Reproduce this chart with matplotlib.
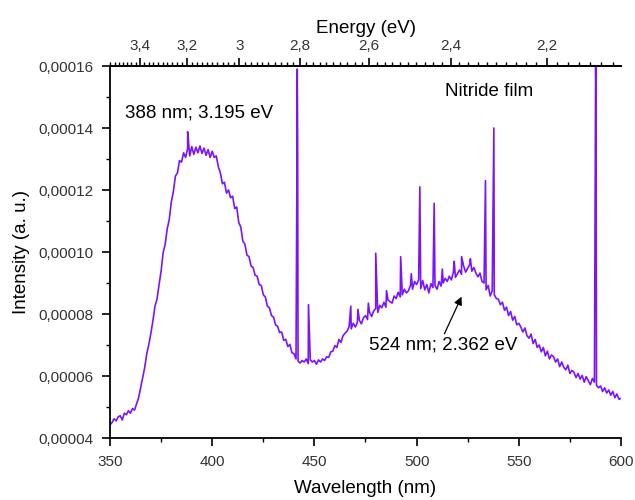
import numpy as np
import matplotlib
matplotlib.use("Agg")
import matplotlib.pyplot as plt
from matplotlib.ticker import MultipleLocator, FixedLocator, FuncFormatter

plt.rcParams['font.family'] = ['Liberation Sans', 'DejaVu Sans']

# ---- data (intensity in units of 1e-5 a.u.) ----
wavelength = np.arange(350, 601)
intensity = [
    4.42, 4.50, 4.62, 4.55, 4.68, 4.72, 4.58, 4.80, 4.75, 4.88,
    4.80, 4.95, 4.90, 5.10, 5.30, 5.62, 5.95, 6.28, 6.72, 7.02,
    7.38, 7.78, 8.25, 8.48, 8.95, 9.38, 9.98, 10.25, 10.75, 11.05,
    11.62, 11.95, 12.45, 12.55, 12.95, 12.90, 13.20, 13.05, 13.35, 13.10,
    13.40, 13.15, 13.38, 13.20, 13.42, 13.18, 13.35, 13.12, 13.30, 13.05,
    13.25, 13.05, 13.10, 12.75, 12.55, 12.20, 12.25, 11.90, 12.00, 11.75,
    11.80, 11.40, 11.45, 10.95, 10.80, 10.35, 10.25, 9.90, 9.85, 9.55,
    9.50, 9.25, 9.22, 8.95, 8.92, 8.62, 8.55, 8.25, 8.20, 7.95,
    7.90, 7.65, 7.60, 7.40, 7.42, 7.15, 7.18, 6.95, 7.02, 6.75,
    6.72, 6.55, 6.48, 6.42, 6.50, 6.45, 6.55, 6.40, 6.52, 6.45,
    6.50, 6.38, 6.52, 6.45, 6.55, 6.50, 6.62, 6.60, 6.78, 6.80,
    6.98, 6.92, 7.18, 7.08, 7.30, 7.38, 7.45, 7.60, 7.52, 7.70,
    7.58, 7.72, 7.80, 7.68, 7.88, 7.95, 7.82, 8.05, 7.92, 8.10,
    8.18, 8.05, 8.28, 8.20, 8.38, 8.22, 8.45, 8.40, 8.35, 8.58,
    8.50, 8.70, 8.55, 8.62, 8.80, 8.68, 8.75, 8.92, 8.80, 9.05,
    8.95, 9.10, 8.82, 9.08, 8.78, 8.95, 8.68, 8.98, 8.85, 8.92,
    8.80, 9.05, 8.90, 9.00, 9.15, 9.05, 9.22, 9.10, 9.35, 9.18,
    9.30, 9.42, 9.28, 9.55, 9.35, 9.48, 9.60, 9.38, 9.50, 9.32,
    9.20, 9.32, 9.05, 9.00, 8.78, 8.92, 8.58, 8.75, 8.62, 8.50,
    8.48, 8.30, 8.38, 8.12, 8.22, 7.95, 8.08, 7.80, 7.92, 7.65,
    7.70, 7.58, 7.42, 7.55, 7.30, 7.22, 7.35, 7.05, 7.18, 6.92,
    7.00, 6.78, 6.92, 6.65, 6.80, 6.55, 6.68, 6.62, 6.45, 6.55,
    6.30, 6.45, 6.28, 6.20, 6.35, 6.08, 6.18, 6.12, 5.95, 6.08,
    5.90, 6.02, 5.80, 5.98, 5.85, 5.72, 5.92, 5.80, 5.70, 5.62,
    5.68, 5.50, 5.62, 5.45, 5.55, 5.38, 5.50, 5.30, 5.42, 5.25,
    5.28,
]

# narrow emission lines and small spikes riding on the spectrum
spike_wl = [388.0, 441.4, 441.6, 441.8, 447.1, 467.8, 471.3, 476.4, 480.0,
            485.3, 492.2, 497.4, 501.6, 508.6, 512.6, 518.4, 522.0, 526.3,
            533.7, 537.6, 537.8, 587.4, 587.6, 587.8]
spike_val = [13.88, 11.9, 15.9, 13.7, 8.3, 8.25, 8.15, 8.35, 9.96,
             8.75, 9.85, 9.30, 12.1, 11.57, 9.45, 9.70, 9.85, 9.78,
             12.3, 12.75, 14.0, 13.1, 16.0, 14.8]

x_ticks = [350, 400, 450, 500, 550, 600]
y_ticks = [0.00004, 0.00006, 0.00008, 0.00010, 0.00012, 0.00014, 0.00016]
energy_ticks = [3.4, 3.2, 3.0, 2.8, 2.6, 2.4, 2.2]

# ---- combine ----
wl_all = np.concatenate([wavelength, spike_wl])
val_all = np.concatenate([intensity, spike_val]) * 1e-5
order = np.argsort(wl_all, kind='stable')
wl_all, val_all = wl_all[order], val_all[order]

fig = plt.figure(figsize=(6.35, 5.0), dpi=100)
ax = fig.add_axes([110/635, 1-438/500, (621-110)/635, (438-66)/500])

ax.plot(wl_all, val_all, color='#7a14ff', lw=1.2)

ax.set_xlim(350, 600)
ax.set_ylim(0.00004, 0.00016)
ax.set_xticks(x_ticks)
ax.xaxis.set_minor_locator(MultipleLocator(25))
ax.set_yticks(y_ticks)
ax.yaxis.set_minor_locator(MultipleLocator(0.00001))
ax.yaxis.set_major_formatter(FuncFormatter(lambda v, p: f"{v:.5f}".replace('.', ',')))

ax.spines['right'].set_visible(False)
for s in ['left', 'bottom', 'top']:
    ax.spines[s].set_linewidth(1.3)

tick_col = '#333333'
ax.tick_params(axis='both', which='major', direction='out', length=6, width=1.2,
               labelsize=11, labelcolor=tick_col, pad=6)
ax.tick_params(axis='both', which='minor', direction='out', length=3, width=1.0)
ax.tick_params(axis='x', which='both', top=False)

ax.set_xlabel('Wavelength (nm)', fontsize=13.5, labelpad=8)
ax.set_ylabel('Intensity (a. u.)', fontsize=13.5, labelpad=6)

# top energy axis
conv = lambda x: 1239.84 / np.asarray(x, dtype=float)
sec = ax.secondary_xaxis('top', functions=(conv, conv))
sec.xaxis.set_major_locator(FixedLocator(energy_ticks))
sec.xaxis.set_minor_locator(FixedLocator(np.round(np.arange(2.06, 3.56, 0.02), 2)))
sec.xaxis.set_major_formatter(FuncFormatter(lambda v, p: f"{v:g}".replace('.', ',')))
sec.tick_params(which='major', direction='out', length=6, width=1.2,
                labelsize=11, labelcolor=tick_col, pad=3)
sec.tick_params(which='minor', direction='out', length=3, width=1.0)
sec.spines['top'].set_linewidth(1.3)
sec.set_xlabel('Energy (eV)', fontsize=13.5, labelpad=5)

# annotations
ax.text(357.3, 0.0001448, '388 nm; 3.195 eV', fontsize=13.5, va='center', ha='left')
ax.text(513.9, 0.0001519, 'Nitride film', fontsize=13.5, va='center', ha='left')
ax.annotate('524 nm; 2.362 eV', xy=(522.0, 0.0000856), xytext=(476.7, 0.0000700),
            fontsize=13.5, va='center', ha='left',
            arrowprops=dict(arrowstyle='-|>', color='black', lw=0.9,
                            shrinkA=0, shrinkB=0, mutation_scale=12,
                            relpos=(0.5, 1.0)))

fig.savefig('out.png', dpi=100)
